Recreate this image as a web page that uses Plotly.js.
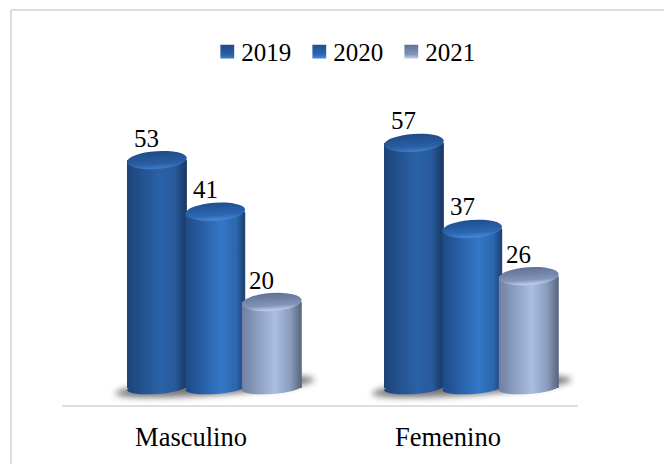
<!DOCTYPE html>
<html><head><meta charset="utf-8">
<script src="https://cdn.plot.ly/plotly-3.0.1.min.js"></script>
<style>html,body{margin:0;padding:0;background:#fff}#c{width:664px;height:464px}</style></head>
<body><div id="c"></div>
<script>
var categories=["Masculino","Femenino"];
var years=["2019","2020","2021"];
var v2019=[53,57];
var v2020=[41,37];
var v2021=[20,26];
var series=[v2019,v2020,v2021];
var stops=[
 [["0","#1d4478"],["0.55","#2a62a8"],["0.8","#285a9c"],["1","#17365f"]],
 [["0","#1d4a85"],["0.6","#3477c8"],["0.85","#2c66ad"],["1","#1b3f70"]],
 [["0","#6f80a2"],["0.55","#aabee2"],["0.8","#8c9dbf"],["1","#566379"]]
];
var topStops=[
 [["0","#1f4b84"],["0.7","#2a5fa5"],["0.93","#3a78c2"],["1","#3a78c2"]],
 [["0","#1f4f8e"],["0.7","#2c68b2"],["0.93","#3f85d4"],["1","#3f85d4"]],
 [["0","#5f7195"],["0.7","#8294b8"],["0.93","#b5c6e6"],["1","#b5c6e6"]]
];
var barW=0.233, offs=[-0.249,-0.022,0.198];
var traces=series.map(function(vals,i){return{
 type:"bar",name:years[i],x:[0,1],y:vals,width:barW,offset:offs[i],
 marker:{color:stops[i][1][1],line:{width:0}},hoverinfo:"skip"};});
var shapes=[],ann=[],kinds=[];
function add(s,k){shapes.push(s);kinds.push(k);}
[0,1].forEach(function(c){
 add({type:"circle",layer:"below",xref:"x",yref:"y",ysizemode:"pixel",yanchor:0,
  x0:c+offs[0]-0.047,x1:c+offs[2]+barW+0.05,y0:-7,y1:10,fillcolor:"#555",opacity:0.8,line:{width:0}},"shadow");
});
[0,1].forEach(function(c){series.forEach(function(vals,i){
 add({type:"circle",layer:"below",xref:"x",yref:"y",ysizemode:"pixel",yanchor:0,
  x0:c+offs[i],x1:c+offs[i]+barW,y0:-6,y1:6,fillcolor:stops[i][1][1],line:{width:0}},"b"+i);
});});
[0,1].forEach(function(c){series.forEach(function(vals,i){
 add({type:"circle",layer:"above",xref:"x",yref:"y",ysizemode:"pixel",yanchor:vals[c],
  x0:c+offs[i],x1:c+offs[i]+barW,y0:-9,y1:9,fillcolor:topStops[i][1][1],line:{width:0}},"t"+i);
 ann.push({xref:"x",yref:"y",x:c+offs[i]+barW/2,y:vals[c],text:String(vals[c]),showarrow:false,
  xshift:-10,yshift:22,font:{family:"Liberation Serif",size:25,color:"#000"}});
});});
var H=329;
var xL=(11-62)/516, yT=(405-10)/H, yB=(405-464)/H, xR=(664-62)/516;
add({type:"line",xref:"paper",yref:"paper",x0:xL,x1:xL,y0:yB,y1:yT,layer:"below",line:{color:"#dcdcdc",width:2}},"frame");
add({type:"line",xref:"paper",yref:"paper",x0:xL,x1:xR,y0:yT,y1:yT,layer:"below",line:{color:"#dcdcdc",width:2}},"frame");
var layout={
 width:664,height:464,margin:{l:62,r:86,t:76,b:59},paper_bgcolor:"#fff",plot_bgcolor:"rgba(0,0,0,0)",
 barmode:"overlay",showlegend:true,
 legend:{orientation:"h",xref:"container",yref:"container",x:0.511,xanchor:"center",y:0.888,yanchor:"middle",
  bgcolor:"rgba(0,0,0,0)",font:{family:"Liberation Serif",size:25,color:"#000"},
  entrywidth:47,traceorder:"normal",itemclick:false,itemdoubleclick:false},
 xaxis:{range:[-0.502,1.506],tickmode:"array",tickvals:[0,1],ticktext:categories,ticks:"",showgrid:false,zeroline:false,
  showline:true,linecolor:"#dedede",linewidth:2,ticklabelstandoff:7,tickfont:{family:"Liberation Serif",size:26.5,color:"#000"}},
 yaxis:{range:[-3.95,72.56],visible:false,showgrid:false,zeroline:false},
 shapes:shapes,annotations:ann
};
Plotly.newPlot("c",traces,layout,{displayModeBar:false}).then(function(gd){
 var svg=gd.querySelector(".main-svg");
 var NS="http://www.w3.org/2000/svg";
 var defs=svg.querySelector("defs");
 function grad(id,st,vert){var g=document.createElementNS(NS,"linearGradient");g.setAttribute("id",id);
  g.setAttribute("x1","0");g.setAttribute("y1","0");g.setAttribute("x2",vert?"0":"1");g.setAttribute("y2",vert?"1":"0");
  st.forEach(function(s){var e=document.createElementNS(NS,"stop");e.setAttribute("offset",s[0]);e.setAttribute("stop-color",s[1]);g.appendChild(e);});defs.appendChild(g);}
 series.forEach(function(_,i){grad("body"+i,stops[i]);grad("top"+i,topStops[i],true);});
 gd.querySelectorAll(".barlayer .trace").forEach(function(t,i){
  t.querySelectorAll("path").forEach(function(p){p.style.fill="url(#body"+i+")";});});
 gd.querySelectorAll(".legend .traces").forEach(function(t,i){
  t.querySelectorAll(".legendpoints path").forEach(function(p){
   p.setAttribute("transform","translate(26,0) scale(1.15)");p.style.fill="url(#top"+i+")";});});
 gd.querySelectorAll(".shapelayer path[data-index]").forEach(function(p){
  var k=kinds[+p.getAttribute("data-index")];if(!k)return;
  if(k==="frame")return;
  p.style.transformBox="fill-box";p.style.transformOrigin="center";p.style.transform="rotate(-4deg)";
  if(k==="shadow"){p.style.filter="blur(3px)";}
  else if(k[0]==="b"){p.style.fill="url(#body"+k[1]+")";}
  else if(k[0]==="t"){p.style.fill="url(#top"+k[1]+")";}
 });
});
</script></body></html>
